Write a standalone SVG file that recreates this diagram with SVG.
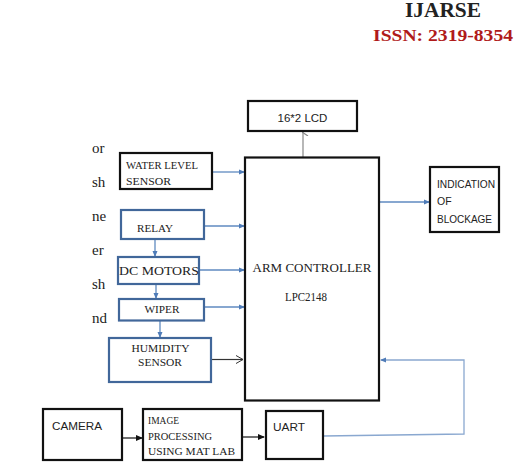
<svg xmlns="http://www.w3.org/2000/svg" width="515" height="462" viewBox="0 0 515 462">
<style>
.bk{fill:#fff;stroke:#111;stroke-width:2.2}
.bl{fill:#fff;stroke:#41679a;stroke-width:2.2}
.tm{font-family:"Liberation Serif",serif;fill:#222}
.sn{font-family:"Liberation Sans",sans-serif;fill:#222}
.cb{stroke:#5f8ac0;stroke-width:1.3;fill:none}
.ck{stroke:#111;stroke-width:1.2;fill:none}
</style>
<defs>
<marker id="ab" markerWidth="6" markerHeight="6" refX="5" refY="3" orient="auto" markerUnits="userSpaceOnUse"><path d="M0,0.5 L6,3 L0,5.5 Z" fill="#4f7cb8"/></marker>
<marker id="ak" markerWidth="7" markerHeight="7" refX="6" refY="3.5" orient="auto" markerUnits="userSpaceOnUse"><path d="M0,0.5 L7,3.5 L0,6.5 Z" fill="#111"/></marker>
<marker id="ag" markerWidth="8" markerHeight="8" refX="4" refY="1" orient="auto-start-reverse" markerUnits="userSpaceOnUse"><path d="M0,6 L4,0 L8,6" fill="none" stroke="#888" stroke-width="1.2"/></marker>
<marker id="ao" markerWidth="10" markerHeight="10" refX="9" refY="5" orient="auto" markerUnits="userSpaceOnUse"><path d="M2,1 L9,5 L2,9" fill="none" stroke="#333" stroke-width="1"/></marker>
</defs>

<g id="header">
<text x="405" y="17" font-family="'Liberation Serif',serif" font-weight="bold" font-size="20" fill="#222" textLength="76" lengthAdjust="spacingAndGlyphs">IJARSE</text>
<text x="373" y="41" font-family="'Liberation Serif',serif" font-weight="bold" font-size="17.5" fill="#b01a1a" textLength="140" lengthAdjust="spacingAndGlyphs">ISSN: 2319-8354</text>
</g>

<g id="body-text" class="tm" font-size="15">
<text x="92" y="153">or</text>
<text x="92" y="187">sh</text>
<text x="92" y="221">ne</text>
<text x="92" y="255">er</text>
<text x="92" y="289">sh</text>
<text x="92" y="323">nd</text>
</g>

<g id="connectors">
<line x1="303" y1="157" x2="303" y2="132" style="stroke:#888;stroke-width:1.2" marker-end="url(#ag)"/>
<line class="cb" x1="212" y1="172" x2="244" y2="172" marker-end="url(#ab)"/>
<line class="cb" x1="204" y1="226" x2="244" y2="226" marker-end="url(#ab)"/>
<line class="cb" x1="155" y1="240" x2="155" y2="256" marker-end="url(#ab)"/>
<line class="cb" x1="199" y1="270" x2="244" y2="270" marker-end="url(#ab)"/>
<line class="cb" x1="156" y1="284" x2="156" y2="298" marker-end="url(#ab)"/>
<line class="cb" x1="204" y1="307" x2="244" y2="307" marker-end="url(#ab)"/>
<line class="cb" x1="160" y1="321" x2="160" y2="337" marker-end="url(#ab)"/>
<line x1="211" y1="359.5" x2="243" y2="359.5" style="stroke:#333;stroke-width:1.2" marker-end="url(#ao)"/>
<line class="cb" x1="379" y1="202" x2="429" y2="202" marker-end="url(#ab)"/>
<line class="ck" x1="122" y1="438" x2="142" y2="438" marker-end="url(#ak)"/>
<line class="ck" x1="242" y1="437" x2="264" y2="437" marker-end="url(#ak)"/>
<polyline class="cb" points="323,436 464,434 464,360 381,360" style="stroke:#8aa8d0" marker-end="url(#ab)"/>
</g>

<g id="lcd">
<rect class="bk" x="248" y="101" width="109" height="30"/>
<text class="sn" x="302.5" y="121.5" font-size="11.5" text-anchor="middle">16*2 LCD</text>
</g>

<g id="arm">
<rect class="bk" x="245" y="157.5" width="134" height="243"/>
<text class="tm" x="312" y="272" font-size="12.5" text-anchor="middle" textLength="119" lengthAdjust="spacingAndGlyphs">ARM CONTROLLER</text>
<text class="tm" x="306" y="301" font-size="12.5" text-anchor="middle" textLength="42" lengthAdjust="spacingAndGlyphs">LPC2148</text>
</g>

<g id="water-level">
<rect class="bk" x="120" y="153" width="92" height="36"/>
<text class="tm" x="126" y="169" font-size="11" textLength="72" lengthAdjust="spacingAndGlyphs">WATER LEVEL</text>
<text class="tm" x="126" y="185" font-size="11" textLength="45" lengthAdjust="spacingAndGlyphs">SENSOR</text>
</g>

<g id="relay">
<rect class="bl" x="121" y="210" width="83" height="29"/>
<text class="tm" x="155" y="231.5" font-size="11" text-anchor="middle" textLength="36" lengthAdjust="spacingAndGlyphs">RELAY</text>
</g>

<g id="dc-motors">
<rect class="bl" x="118" y="257" width="81" height="27"/>
<text class="tm" x="159" y="275" font-size="13" text-anchor="middle" textLength="80" lengthAdjust="spacingAndGlyphs">DC MOTORS</text>
</g>

<g id="wiper">
<rect class="bl" x="119" y="299" width="85" height="21.5"/>
<text class="tm" x="162" y="313" font-size="10" text-anchor="middle" textLength="35" lengthAdjust="spacingAndGlyphs">WIPER</text>
</g>

<g id="humidity">
<rect class="bl" x="109" y="338" width="102" height="44"/>
<text class="tm" x="160.5" y="352" font-size="11" text-anchor="middle" textLength="58" lengthAdjust="spacingAndGlyphs">HUMIDITY</text>
<text class="tm" x="160" y="366" font-size="11" text-anchor="middle" textLength="44" lengthAdjust="spacingAndGlyphs">SENSOR</text>
</g>

<g id="indication">
<rect class="bk" x="430" y="167" width="69" height="65"/>
<text class="sn" x="437" y="188" font-size="10.5" textLength="58" lengthAdjust="spacingAndGlyphs">INDICATION</text>
<text class="sn" x="437" y="205" font-size="10.5">OF</text>
<text class="sn" x="437" y="223" font-size="10.5" textLength="55" lengthAdjust="spacingAndGlyphs">BLOCKAGE</text>
</g>

<g id="camera">
<rect class="bk" x="43" y="409" width="79" height="51"/>
<text class="sn" x="52" y="430" font-size="11.5" textLength="50" lengthAdjust="spacingAndGlyphs">CAMERA</text>
</g>

<g id="image-processing">
<rect class="bk" x="143" y="409" width="99" height="51"/>
<text class="tm" x="148" y="424" font-size="10.5" textLength="31" lengthAdjust="spacingAndGlyphs">IMAGE</text>
<text class="tm" x="148" y="440" font-size="10.5" textLength="64" lengthAdjust="spacingAndGlyphs">PROCESSING</text>
<text class="tm" x="148" y="455" font-size="10.5" textLength="87" lengthAdjust="spacingAndGlyphs">USING MAT LAB</text>
</g>

<g id="uart">
<rect class="bk" x="266" y="411" width="57" height="48"/>
<text class="sn" x="273" y="431" font-size="11.5" textLength="32" lengthAdjust="spacingAndGlyphs">UART</text>
</g>
</svg>
